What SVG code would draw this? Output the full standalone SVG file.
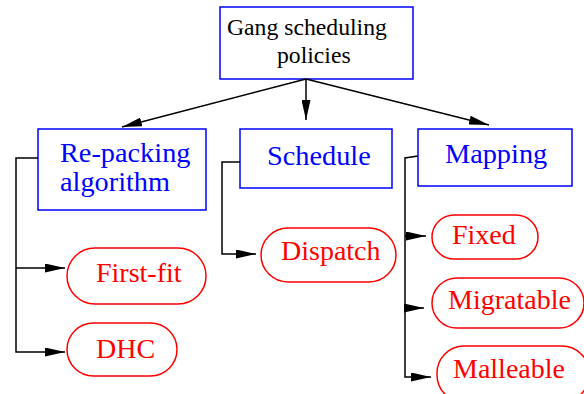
<svg xmlns="http://www.w3.org/2000/svg" width="584" height="394" viewBox="0 0 584 394">
  <style>
    text { font-family: "Liberation Serif", "Times New Roman", serif; }
    .box { fill: none; stroke: #0000ff; stroke-width: 1.5; }
    .pill { fill: none; stroke: #ff0000; stroke-width: 1.5; }
    .title { fill: #000000; font-size: 23.7px; }
    .blue { fill: #0000ff; font-size: 28.3px; }
    .red { fill: #ff0000; font-size: 28px; }
    .edge { fill: none; stroke: #000000; stroke-width: 1.5; }
  </style>
  <defs>
    <marker id="arrow" viewBox="0 0 20 9" refX="20" refY="4.5" markerWidth="20" markerHeight="9" markerUnits="userSpaceOnUse" orient="auto">
      <path d="M0,0 L20,4.5 L0,9 Z" fill="#000000"/>
    </marker>
  </defs>

  <!-- root -->
  <g id="root">
    <rect class="box" x="220" y="7" width="193" height="72"/>
    <text class="title" x="227" y="35">Gang scheduling</text>
    <text class="title" x="277" y="63">policies</text>
  </g>

  <!-- category boxes -->
  <g id="repacking">
    <rect class="box" x="38" y="129" width="168" height="81"/>
    <text class="blue" x="60" y="162">Re-packing</text>
    <text class="blue" x="60" y="191">algorithm</text>
  </g>
  <g id="schedule">
    <rect class="box" x="240" y="129" width="152" height="59"/>
    <text class="blue" x="267" y="165">Schedule</text>
  </g>
  <g id="mapping">
    <rect class="box" x="418" y="129" width="154" height="57"/>
    <text class="blue" x="445" y="163">Mapping</text>
  </g>

  <!-- leaf options -->
  <g id="firstfit">
    <rect class="pill" x="67" y="248" width="139" height="56" rx="28" ry="28"/>
    <text class="red" x="96" y="282">First-fit</text>
  </g>
  <g id="dhc">
    <rect class="pill" x="67" y="323" width="110" height="53" rx="26.5" ry="26.5"/>
    <text class="red" x="96" y="358">DHC</text>
  </g>
  <g id="dispatch">
    <rect class="pill" x="261" y="228" width="135" height="54" rx="27" ry="27"/>
    <text class="red" x="281" y="260">Dispatch</text>
  </g>
  <g id="fixed">
    <rect class="pill" x="432" y="215" width="106" height="44" rx="22" ry="22"/>
    <text class="red" x="452" y="244">Fixed</text>
  </g>
  <g id="migratable">
    <rect class="pill" x="432" y="278" width="152" height="50" rx="25" ry="25"/>
    <text class="red" x="448" y="309">Migratable</text>
  </g>
  <g id="malleable">
    <rect class="pill" x="437" y="346" width="152" height="56" rx="27" ry="27"/>
    <text class="red" x="453" y="378">Malleable</text>
  </g>

  <!-- connectors -->
  <g id="connectors">
    <line class="edge" x1="306" y1="79" x2="122" y2="127" marker-end="url(#arrow)"/>
    <line class="edge" x1="306" y1="79" x2="306" y2="120" marker-end="url(#arrow)"/>
    <line class="edge" x1="306" y1="79" x2="489" y2="125" marker-end="url(#arrow)"/>

    <polyline class="edge" points="38,158 16,158 16,352 65,352" marker-end="url(#arrow)"/>
    <line class="edge" x1="16" y1="268" x2="65" y2="268" marker-end="url(#arrow)"/>

    <polyline class="edge" points="240,162 222,162 222,254 256,254" marker-end="url(#arrow)"/>

    <polyline class="edge" points="418,156 405,158 405,377 431,377" marker-end="url(#arrow)"/>
    <line class="edge" x1="405" y1="236" x2="426" y2="236" marker-end="url(#arrow)"/>
    <line class="edge" x1="405" y1="308" x2="424" y2="308" marker-end="url(#arrow)"/>
  </g>
</svg>
